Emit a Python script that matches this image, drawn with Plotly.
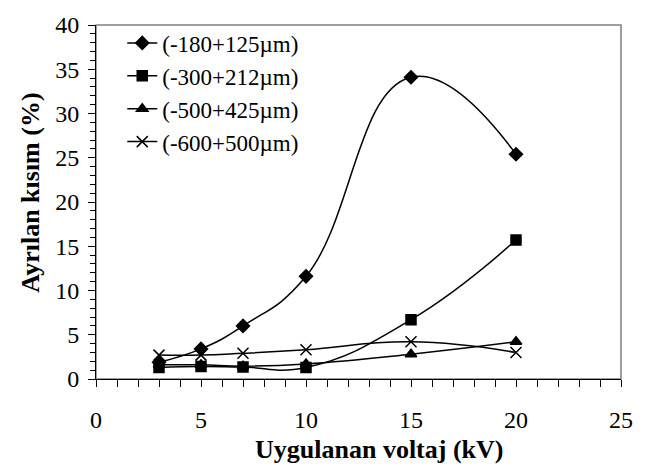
import plotly.graph_objects as go

voltage = [3, 5, 7, 10, 15, 20]
s_180_125 = [1.9, 3.4, 6.0, 11.6, 34.1, 25.4]
s_300_212 = [1.3, 1.4, 1.35, 1.3, 6.7, 15.7]
s_500_425 = [1.6, 1.6, 1.45, 1.7, 2.8, 4.2]
s_600_500 = [2.7, 2.7, 2.9, 3.3, 4.2, 3.0]

names = ["(-180+125µm)", "(-300+212µm)", "(-500+425µm)", "(-600+500µm)"]
symbols = ["diamond", "square", "triangle-up", "x-thin-open"]
sizes = [10, 10, 10, 11]
series = [s_180_125, s_300_212, s_500_425, s_600_500]

x_title = "<b>Uygulanan voltaj (kV)</b>"
y_title = "<b>Ayrılan kısım (%)</b>"

font_family = "Liberation Serif"

fig = go.Figure()
for i, (nm, sym, sz, ys) in enumerate(zip(names, symbols, sizes, series)):
    fig.add_trace(go.Scatter(
        x=voltage, y=ys, name=nm, mode="lines+markers",
        line=dict(color="black", width=1.5, shape="spline", smoothing=1.3),
        marker=dict(symbol=sym, size=sz, color="black",
                    line=dict(color="black", width=1.5)),
    ))

axis_common = dict(
    showgrid=False, zeroline=False, showline=True, linecolor="black", linewidth=1,
    ticks="outside", ticklen=7, tickcolor="black", tickwidth=1,
    tickfont=dict(family=font_family, size=24, color="black"),
)

fig.update_xaxes(
    range=[0, 25], dtick=5, tick0=0,
    minor=dict(dtick=1, ticks="outside", ticklen=7, tickcolor="black", tickwidth=1),
    ticklabelstandoff=12,
    **axis_common,
)
fig.update_yaxes(
    range=[0, 40], dtick=5, tick0=0,
    minor=dict(dtick=1, ticks="outside", ticklen=5, tickcolor="black", tickwidth=1),
    ticklabelstandoff=4,
    **axis_common,
)

fig.add_annotation(text=x_title, xref="paper", yref="paper", x=0.539, y=-0.2,
                   xanchor="center", yanchor="middle", showarrow=False,
                   font=dict(family=font_family, size=26, color="black"))
fig.add_annotation(text=y_title, xref="paper", yref="paper", x=-0.124, y=0.526,
                   xanchor="center", yanchor="middle", showarrow=False, textangle=-90,
                   font=dict(family=font_family, size=26, color="black"))

fig.add_shape(type="rect", xref="paper", yref="paper", x0=0, y0=0, x1=1, y1=1,
              line=dict(color="#808080", width=1.5), layer="below")

fig.update_layout(
    width=645, height=474,
    margin=dict(l=96, r=24, t=15, b=95),
    paper_bgcolor="white", plot_bgcolor="white",
    font=dict(family=font_family, color="black"),
    showlegend=True,
    legend=dict(x=0.05, y=1.01, xanchor="left", yanchor="top",
                bgcolor="rgba(0,0,0,0)", borderwidth=0,
                font=dict(family=font_family, size=23, color="black"),
                tracegroupgap=0),
)

fig.write_html("out.html")
